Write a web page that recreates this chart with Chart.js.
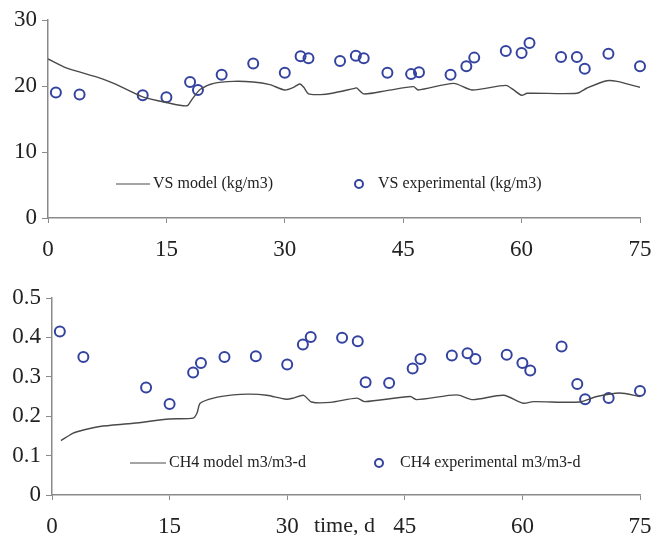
<!DOCTYPE html>
<html>
<head>
<meta charset="utf-8">
<script src="https://cdn.jsdelivr.net/npm/chart.js@4.4.1/dist/chart.umd.min.js"></script>
<style>
  body { margin: 0; background: #fff; }
  .box { position: absolute; left: 0; }
</style>
</head>
<body>
<div class="box" style="top:0"><canvas id="vsChart" width="652" height="260"></canvas></div>
<div class="box" style="top:260px"><canvas id="ch4Chart" width="652" height="275"></canvas></div>
<script>
// VS (kg/m3) - model curve
const vsModelDays = [0, 2.4, 6.6, 8.7, 11.9, 15, 17.6, 18.2, 19.3, 21, 23.5, 26, 28.1, 30, 31.1, 31.9, 32.4, 33, 34.5, 36, 38.7, 39.1, 40, 42.9, 46.3, 46.9, 51.4, 53.7, 58, 59, 60, 60.7, 67, 68.3, 70.8, 72.1, 75];
const vsModel = [24.1, 22.7, 21.2, 20.2, 18.4, 17.5, 17.0, 17.9, 19.5, 20.4, 20.7, 20.6, 20.2, 19.4, 19.8, 20.3, 19.8, 18.8, 18.7, 18.9, 19.6, 19.7, 18.8, 19.3, 19.9, 19.4, 20.4, 19.4, 20.1, 19.4, 18.6, 18.9, 18.9, 19.7, 20.8, 20.7, 19.8];

// VS (kg/m3) - experimental
const vsExpDays = [1, 4, 12, 15, 18, 19, 22, 26, 30, 32, 33, 37, 39, 40, 43, 46, 47, 51, 53, 54, 58, 60, 61, 65, 67, 68, 71, 75];
const vsExp = [19.0, 18.7, 18.6, 18.3, 20.6, 19.4, 21.7, 23.4, 22.0, 24.5, 24.2, 23.8, 24.6, 24.2, 22.0, 21.8, 22.1, 21.7, 23.0, 24.3, 25.3, 25.0, 26.5, 24.4, 24.4, 22.6, 24.9, 23.0];

// CH4 m3/m3-d - model curve
const ch4ModelDays = [1.15, 2.7, 4, 6.1, 10.4, 15, 18, 18.5, 18.9, 20.6, 23.1, 25.2, 27.4, 29.9, 30.8, 32.1, 33.1, 35.5, 38.9, 39.9, 45.7, 46.5, 51.6, 53.7, 57.6, 60.1, 61.4, 67.3, 69.5, 72.4, 75];
const ch4Model = [0.138, 0.157, 0.165, 0.174, 0.182, 0.193, 0.195, 0.208, 0.233, 0.246, 0.254, 0.256, 0.253, 0.243, 0.246, 0.253, 0.236, 0.235, 0.246, 0.237, 0.250, 0.242, 0.254, 0.242, 0.253, 0.233, 0.237, 0.236, 0.250, 0.259, 0.250];

// CH4 m3/m3-d - experimental
const ch4ExpDays = [1, 4, 12, 15, 18, 19, 22, 26, 30, 32, 33, 37, 39, 40, 43, 46, 47, 51, 53, 54, 58, 60, 61, 65, 67, 68, 71, 75];
const ch4Exp = [0.415, 0.350, 0.273, 0.231, 0.311, 0.335, 0.350, 0.352, 0.331, 0.382, 0.401, 0.399, 0.390, 0.286, 0.284, 0.321, 0.345, 0.354, 0.360, 0.345, 0.356, 0.335, 0.316, 0.377, 0.282, 0.243, 0.246, 0.264];

const xTicks = [0, 15, 30, 45, 60, 75];
const xAxisTitle = 'time, d';

const lineColor = '#4a4a4a';
const dotColor = '#3443a0';
const axisColor = '#8a8a8a';
const serif = '"Liberation Serif", "Times New Roman", serif';

const toPoints = (xs, ys) => xs.map((x, i) => ({ x: x, y: ys[i] }));

// legend drawn inside the plot area, like the original figure
const insideLegend = {
    id: 'insideLegend',
    afterDraw(chart, args, opts) {
        const ctx = chart.ctx;
        const sets = chart.data.datasets;
        ctx.save();
        ctx.font = '16px ' + serif;
        ctx.fillStyle = '#222';
        ctx.textBaseline = 'middle';
        // line sample
        ctx.strokeStyle = lineColor;
        ctx.lineWidth = 1.2;
        ctx.beginPath();
        ctx.moveTo(opts.lineX1, opts.y);
        ctx.lineTo(opts.lineX2, opts.y);
        ctx.stroke();
        ctx.fillText(sets[0].label, opts.lineX2 + 3, opts.y);
        // circle sample
        ctx.strokeStyle = dotColor;
        ctx.lineWidth = 2;
        ctx.beginPath();
        ctx.arc(opts.dotX, opts.y, 4, 0, Math.PI * 2);
        ctx.stroke();
        ctx.fillText(sets[1].label, opts.dotX + opts.dotGap, opts.y);
        ctx.restore();
    }
};

// "time, d" sits on the tick label row between 30 and 45
const inlineTitle = {
    id: 'inlineTitle',
    afterDraw(chart, args, opts) {
        if (!opts.text) return;
        const ctx = chart.ctx;
        const xs = chart.scales.x;
        ctx.save();
        ctx.font = '22px ' + serif;
        ctx.fillStyle = '#222';
        ctx.textAlign = 'center';
        ctx.textBaseline = 'middle';
        ctx.fillText(opts.text, xs.getPixelForValue(opts.at), xs.bottom - opts.fromBottom);
        ctx.restore();
    }
};

function makeChart(id, cfg) {
    return new Chart(document.getElementById(id), {
        type: 'scatter',
        data: {
            datasets: [
                {
                    type: 'line',
                    label: cfg.modelLabel,
                    data: toPoints(cfg.modelDays, cfg.model),
                    borderColor: lineColor,
                    borderWidth: 1.4,
                    pointRadius: 0,
                    tension: 0.25,
                    fill: false
                },
                {
                    label: cfg.expLabel,
                    data: toPoints(cfg.expDays, cfg.exp),
                    borderColor: dotColor,
                    backgroundColor: 'rgba(0,0,0,0)',
                    borderWidth: 2,
                    pointRadius: 5,
                    pointStyle: 'circle',
                    clip: false
                }
            ]
        },
        options: {
            responsive: false,
            animation: false,
            layout: { padding: cfg.padding },
            plugins: {
                legend: { display: false },
                tooltip: { enabled: false },
                insideLegend: cfg.legend,
                inlineTitle: cfg.title || {}
            },
            scales: {
                x: {
                    type: 'linear',
                    min: 0,
                    max: 75,
                    afterBuildTicks: s => { s.ticks = xTicks.map(v => ({ value: v })); },
                    afterFit: s => {
                        s.height = cfg.xHeight;
                        s.paddingLeft = 0;
                        s.paddingRight = 0;
                    },
                    grid: { drawOnChartArea: false, drawTicks: true, tickLength: 5, color: axisColor },
                    border: { display: true, color: axisColor, width: 1.5 },
                    ticks: { color: '#222', padding: 13, font: { family: serif, size: 23 } }
                },
                y: {
                    min: 0,
                    max: cfg.yMax,
                    afterFit: s => { s.width = cfg.yWidth; },
                    grid: { drawOnChartArea: false, drawTicks: true, tickLength: 6, color: axisColor },
                    border: { display: true, color: axisColor, width: 1.5 },
                    ticks: { stepSize: cfg.yStep, color: '#222', padding: 5, font: { family: serif, size: 23 } }
                }
            }
        },
        plugins: [insideLegend, inlineTitle]
    });
}

document.addEventListener('DOMContentLoaded', function() {
    makeChart('vsChart', {
        modelLabel: 'VS model (kg/m3)',
        expLabel: 'VS experimental (kg/m3)',
        modelDays: vsModelDays, model: vsModel,
        expDays: vsExpDays, exp: vsExp,
        yMax: 30, yStep: 10,
        yWidth: 48, xHeight: 42,
        padding: { top: 20, right: 12, bottom: 0, left: 0 },
        legend: { y: 184, lineX1: 116, lineX2: 150, dotX: 359, dotGap: 19 }
    });

    makeChart('ch4Chart', {
        modelLabel: 'CH4 model m3/m3-d',
        expLabel: 'CH4 experimental m3/m3-d',
        modelDays: ch4ModelDays, model: ch4Model,
        expDays: ch4ExpDays, exp: ch4Exp,
        yMax: 0.5, yStep: 0.1,
        yWidth: 52, xHeight: 40,
        padding: { top: 38, right: 12, bottom: 0, left: 0 },
        legend: { y: 203, lineX1: 130, lineX2: 166, dotX: 379, dotGap: 21 },
        title: { text: xAxisTitle, at: 37.3, fromBottom: 9 }
    });
});
</script>
</body>
</html>
